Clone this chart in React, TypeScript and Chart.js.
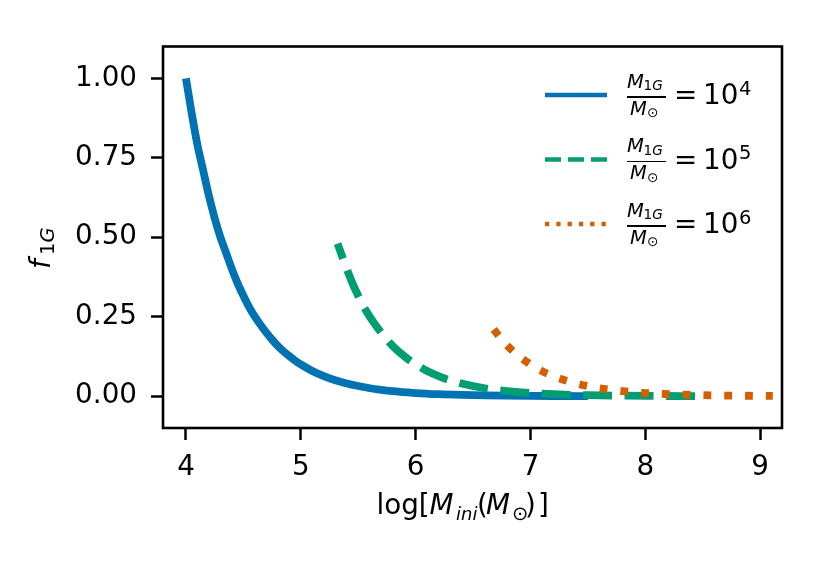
import { useEffect, useRef } from "react";
import { Chart, registerables } from "chart.js";

Chart.register(...registerables);

// values (log M_ini on x, f_1G on y)
const BLUE_X = [
  4.0, 4.05, 4.1, 4.15, 4.2, 4.25, 4.3, 4.35, 4.4, 4.45, 4.5, 4.55, 4.6, 4.65, 4.7, 4.75, 4.8, 4.85, 4.9, 4.95,
  5.0, 5.1, 5.2, 5.3, 5.4, 5.5, 5.6, 5.7, 5.8, 5.9, 6.0, 6.2, 6.4, 6.6, 6.8, 7.0, 7.25, 7.5,
];
const BLUE_Y = [
  1.0, 0.89, 0.79, 0.71, 0.63, 0.56, 0.5, 0.45, 0.4, 0.355, 0.316, 0.28, 0.25, 0.224, 0.2, 0.178, 0.158, 0.141, 0.126, 0.112,
  0.1, 0.079, 0.063, 0.05, 0.04, 0.032, 0.025, 0.02, 0.016, 0.013, 0.01, 0.0063, 0.004, 0.0025, 0.0016, 0.001, 0.0006, 0.0003,
];

const GREEN_X = [
  5.32, 5.36, 5.4, 5.45, 5.5, 5.55, 5.6, 5.65, 5.7, 5.8, 5.9, 6.0, 6.1, 6.2, 6.3, 6.4, 6.6, 6.8, 7.0, 7.25, 7.5, 8.0, 8.46,
];
const GREEN_Y = [
  0.48, 0.44, 0.4, 0.355, 0.316, 0.28, 0.25, 0.224, 0.2, 0.158, 0.126, 0.1, 0.079, 0.063, 0.05, 0.04, 0.025, 0.016, 0.01, 0.0056,
  0.0032, 0.001, 0.0003,
];

const ORANGE_X = [6.68, 6.75, 6.8, 6.9, 7.0, 7.1, 7.2, 7.3, 7.4, 7.6, 7.8, 8.0, 8.25, 8.5, 9.0, 9.11];
const ORANGE_Y = [0.21, 0.178, 0.158, 0.126, 0.1, 0.079, 0.063, 0.05, 0.04, 0.025, 0.016, 0.01, 0.0056, 0.0032, 0.001, 0.0008];

const SERIES_EXPONENTS = ["4", "5", "6"];
const SERIES_COLORS = ["#0173b2", "#029e73", "#d55e00"];

const X_TICKS = [4, 5, 6, 7, 8, 9];
const Y_TICKS = [0, 0.25, 0.5, 0.75, 1.0];

const FONT = "'DejaVu Sans', sans-serif";
const FS = 27.8; // base font size
const SUB = 19.5; // sub/superscript size

const toPoints = (xs: number[], ys: number[]) => xs.map((x, i) => ({ x, y: ys[i] }));

// frame around the plot area (matplotlib spines)
const framePlugin = {
  id: "frame",
  afterDatasetsDraw(chart: Chart) {
    const { ctx, chartArea } = chart;
    ctx.save();
    ctx.strokeStyle = "#000";
    ctx.lineWidth = 2.6;
    ctx.strokeRect(
      chartArea.left,
      chartArea.top,
      chartArea.right - chartArea.left,
      chartArea.bottom - chartArea.top
    );
    ctx.restore();
  },
};

// text piece placed by its left edge and baseline
const Txt = ({
  x,
  y,
  size,
  italic,
  children,
}: {
  x: number;
  y: number;
  size: number;
  italic?: boolean;
  children: React.ReactNode;
}) => (
  <span
    style={{
      position: "absolute",
      left: x,
      top: y - 0.846 * size,
      fontFamily: FONT,
      fontSize: size,
      lineHeight: `${size}px`,
      fontStyle: italic ? "italic" : "normal",
      whiteSpace: "nowrap",
      color: "#000",
    }}
  >
    {children}
  </span>
);

const LegendEntry = ({ dy, exp }: { dy: number; exp: string }) => (
  <>
    <Txt x={627} y={88 + dy} size={SUB} italic>
      M
    </Txt>
    <Txt x={643.5} y={91 + dy} size={13.6}>
      1<i>G</i>
    </Txt>
    <div
      style={{
        position: "absolute",
        left: 627,
        top: 96.3 + dy,
        width: 39,
        height: 1.4,
        background: "#000",
      }}
    />
    <Txt x={630} y={115 + dy} size={SUB} italic>
      M
    </Txt>
    <Txt x={647} y={118 + dy} size={13.6}>
      ⊙
    </Txt>
    <Txt x={674} y={105 + dy} size={FS}>
      =
    </Txt>
    <Txt x={703} y={105 + dy} size={FS}>
      10
    </Txt>
    <Txt x={739} y={95 + dy} size={SUB}>
      {exp}
    </Txt>
  </>
);

const LEGEND_DASHES = ["", "16 7", "4.3 7"];

const App = () => {
  const canvasRef = useRef<HTMLCanvasElement>(null);

  useEffect(() => {
    if (!canvasRef.current) return;

    const common = {
      borderWidth: 7.8,
      pointRadius: 0,
      fill: false,
      cubicInterpolationMode: "monotone" as const,
      borderCapStyle: "butt" as const,
      borderJoinStyle: "round" as const,
    };

    const chart = new Chart(canvasRef.current, {
      type: "line",
      data: {
        datasets: [
          {
            ...common,
            label: "1e4",
            data: toPoints(BLUE_X, BLUE_Y),
            borderColor: SERIES_COLORS[0],
            order: 3,
          },
          {
            ...common,
            label: "1e5",
            data: toPoints(GREEN_X, GREEN_Y),
            borderColor: SERIES_COLORS[1],
            borderDash: [29, 12.5],
            borderDashOffset: 13,
            order: 2,
          },
          {
            ...common,
            label: "1e6",
            data: toPoints(ORANGE_X, ORANGE_Y),
            borderColor: SERIES_COLORS[2],
            borderDash: [7.8, 13],
            order: 1,
          },
        ],
      },
      options: {
        animation: false,
        responsive: false,
        maintainAspectRatio: false,
        layout: { padding: { top: 46.5, right: 48, bottom: 0, left: 0 } },
        plugins: {
          legend: { display: false },
          tooltip: { enabled: false },
          title: { display: false },
        },
        scales: {
          x: {
            type: "linear",
            min: 3.8,
            max: 9.19,
            afterBuildTicks: (scale: any) => {
              scale.ticks = X_TICKS.map((v) => ({ value: v }));
            },
            afterFit: (scale: any) => {
              scale.height = 144;
            },
            border: { display: false },
            grid: {
              drawOnChartArea: false,
              drawTicks: true,
              tickLength: 12,
              tickWidth: 2.5,
              tickColor: "#000",
            },
            ticks: {
              color: "#000",
              padding: 11,
              maxRotation: 0,
              autoSkip: false,
              font: { family: FONT, size: FS },
              callback: (v: any) => String(v),
            },
          },
          y: {
            type: "linear",
            min: -0.1,
            max: 1.1,
            afterBuildTicks: (scale: any) => {
              scale.ticks = Y_TICKS.map((v) => ({ value: v }));
            },
            afterFit: (scale: any) => {
              scale.width = 163;
            },
            border: { display: false },
            grid: {
              drawOnChartArea: false,
              drawTicks: true,
              tickLength: 12,
              tickWidth: 2.5,
              tickColor: "#000",
            },
            ticks: {
              color: "#000",
              padding: 14,
              autoSkip: false,
              font: { family: FONT, size: FS },
              callback: (v: any) => Number(v).toFixed(2),
            },
          },
        },
      },
      plugins: [framePlugin],
    });

    return () => {
      chart.destroy();
    };
  }, []);

  return (
    <div
      style={{
        position: "absolute",
        left: 0,
        top: 0,
        width: 830,
        height: 572,
        background: "#fff",
        overflow: "hidden",
      }}
    >
      <canvas ref={canvasRef} width={830} height={572} style={{ width: 830, height: 572 }} />

      {/* legend handles */}
      <svg
        width={830}
        height={572}
        style={{ position: "absolute", left: 0, top: 0, pointerEvents: "none" }}
      >
        {SERIES_COLORS.map((c, i) => (
          <line
            key={c}
            x1={545}
            x2={607}
            y1={95 + i * 64.5}
            y2={95 + i * 64.5}
            stroke={c}
            strokeWidth={4.4}
            strokeDasharray={LEGEND_DASHES[i] || undefined}
          />
        ))}
      </svg>

      {/* legend labels */}
      {SERIES_EXPONENTS.map((e, i) => (
        <LegendEntry key={e} dy={i * 64.5} exp={e} />
      ))}

      {/* x axis title */}
      <Txt x={376.5} y={515} size={FS}>
        log[
      </Txt>
      <Txt x={429.5} y={515} size={FS} italic>
        M
      </Txt>
      <Txt x={456} y={520} size={18} italic>
        ini
      </Txt>
      <Txt x={477} y={515} size={FS}>
        (
      </Txt>
      <Txt x={486} y={515} size={FS} italic>
        M
      </Txt>
      <Txt x={512} y={520} size={SUB}>
        ⊙
      </Txt>
      <Txt x={525} y={515} size={FS}>
        )
      </Txt>
      <Txt x={538} y={515} size={FS}>
        ]
      </Txt>

      {/* y axis title, rotated */}
      <div
        style={{
          position: "absolute",
          left: 51,
          top: 268,
          width: 0,
          height: 0,
          transform: "rotate(-90deg)",
          transformOrigin: "0 0",
        }}
      >
        <Txt x={-1} y={0} size={FS} italic>
          f
        </Txt>
        <Txt x={13} y={3} size={SUB}>
          1<i>G</i>
        </Txt>
      </div>
    </div>
  );
};

export default App;
